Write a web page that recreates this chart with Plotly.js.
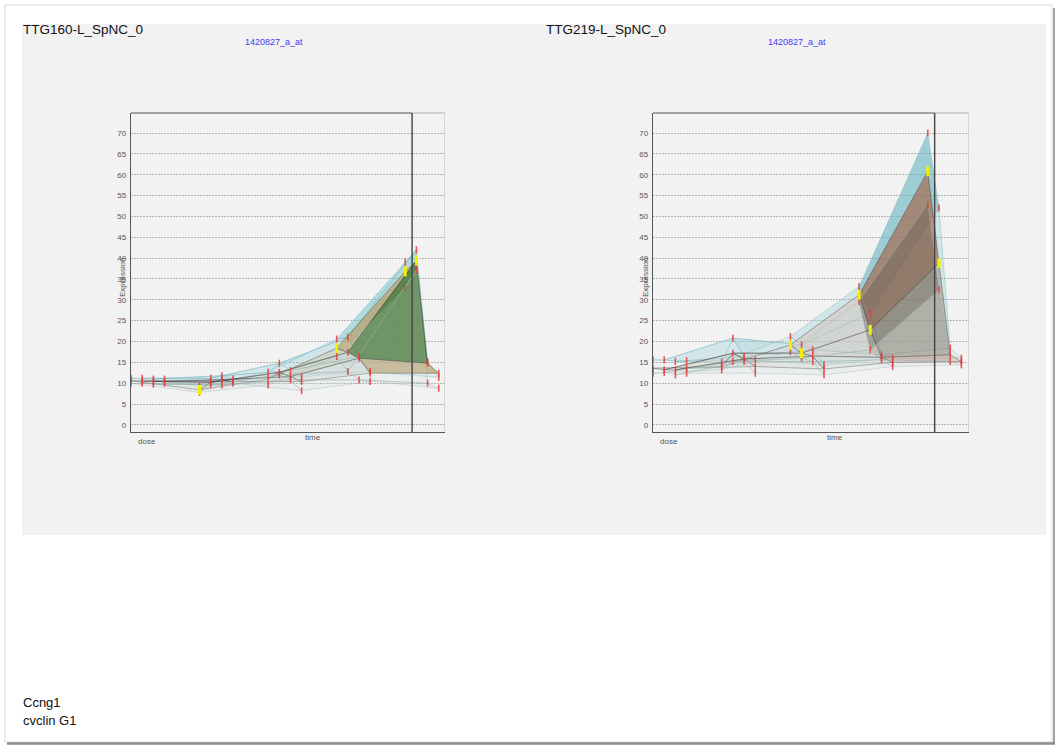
<!DOCTYPE html>
<html><head><meta charset="utf-8">
<script src="https://cdn.plot.ly/plotly-3.0.1.min.js"></script>
<style>html,body{margin:0;padding:0;background:#fff;}#chart{width:1063px;height:746px;}</style>
</head><body><div id="chart"></div>
<script>
// ---------- data ----------
const timeIdx = [0, 1, 2, 3, 4];
const doseIdx = [0, 1, 2, 3];
const yTicks = [0, 5, 10, 15, 20, 25, 30, 35, 40, 45, 50, 55, 60, 65, 70];

const leftTitle = "TTG160-L_SpNC_0";
const rightTitle = "TTG219-L_SpNC_0";
const probeId = "1420827_a_at";
const geneSymbol = "Ccng1";
const geneName = "cvclin G1";

// rows = dose, columns = time
const leftHi = [
  [11.2, 9.4, 12.6, 20.6, 39.0],
  [11.2, 11.2, 14.8, 21.0, 42.0],
  [11.0, 11.8, 13.0, 16.4, 15.2],
  [11.0, 11.0, 11.6, 12.8, 11.4]];
const leftMid = [
  [10.6, 8.4, 11.0, 18.4, 36.8],
  [10.5, 10.2, 12.6, 17.4, 39.4],
  [10.4, 10.8, 11.6, 16.0, 14.8],
  [10.4, 10.4, 10.4, 12.4, 12.4]];
const leftLo = [
  [10.0, 7.8, 9.6, 16.4, 32.8],
  [10.0, 9.6, 12.0, 12.8, 37.2],
  [9.8, 9.6, 10.8, 10.8, 10.0],
  [10.0, 10.0, 8.2, 10.4, 8.8]];
const leftSig = [[0, 1], [0, 3], [0, 4], [1, 4]];

const rightHi = [
  [15.6, 15.0, 21.2, 33.2, 70.0],
  [15.6, 20.8, 19.2, 26.8, 52.0],
  [15.2, 16.4, 18.0, 16.8, 18.4],
  [15.4, 15.6, 14.4, 16.0, 16.0]];
const rightMid = [
  [13.6, 14.0, 19.2, 31.2, 60.8],
  [13.2, 17.2, 17.2, 22.8, 38.8],
  [13.2, 15.8, 16.5, 16.2, 16.8],
  [13.6, 14.0, 13.4, 15.0, 15.2]];
const rightLo = [
  [12.4, 13.2, 17.6, 29.6, 52.8],
  [12.6, 15.2, 16.0, 18.0, 32.4],
  [12.0, 15.2, 15.2, 15.6, 15.2],
  [12.4, 12.4, 12.0, 14.0, 14.4]];
const rightSig = [[0, 2], [1, 2], [0, 3], [1, 3], [0, 4], [1, 4]];

// cell colour codes: rows = dose band, columns = time interval
const leftHiCells  = [['a','a','b','B'], ['a','a','b','B'], ['a','a','a','a']];
const leftMidCells = [['g','g','k','T'], ['g','g','k','G'], ['g','g','g','T']];
const leftLoCells  = [['l','l','l','l'], ['l','l','l','l'], ['l','l','l','l']];
const rightHiCells  = [['a','a','b','C'], ['a','b','b','b'], ['a','a','a','a']];
const rightMidCells = [['g','g','p','R'], ['g','g','p','q'], ['g','g','g','P']];
const rightLoCells  = [['l','l','l','D'], ['l','l','l','m'], ['l','l','l','l']];

const palette = {
  a: 'rgba(175,215,222,0.25)', b: 'rgba(150,205,215,0.35)', B: 'rgba(115,190,200,0.50)',
  C: 'rgba(100,180,190,0.60)',
  g: 'rgba(205,210,200,0.30)', k: 'rgba(200,185,150,0.35)', T: 'rgba(185,150,85,0.60)',
  G: 'rgba(75,115,45,0.82)',
  p: 'rgba(220,185,170,0.40)', R: 'rgba(165,95,65,0.62)', q: 'rgba(150,130,110,0.45)',
  P: 'rgba(228,170,160,0.50)',
  l: 'rgba(195,215,215,0.18)', D: 'rgba(105,95,85,0.45)', m: 'rgba(160,160,150,0.35)'
};

// ---------- drawing ----------
const W = 1063, H = 746;
const TSTEP = 1, DSTEP = 0.163;
const px = v => v / W, py = v => 1 - v / H;
const traces = [];

function proj(t, d) { return timeIdx[t] * TSTEP + doseIdx[d] * DSTEP; }

function surface(vals, cells, edge, xa, ya) {
  for (let d = 0; d < doseIdx.length - 1; d++) {
    for (let t = 0; t < timeIdx.length - 1; t++) {
      traces.push({
        type: 'scatter', mode: 'lines', xaxis: xa, yaxis: ya, hoverinfo: 'skip',
        x: [proj(t, d), proj(t + 1, d), proj(t + 1, d + 1), proj(t, d + 1), proj(t, d)],
        y: [vals[d][t], vals[d][t + 1], vals[d + 1][t + 1], vals[d + 1][t], vals[d][t]],
        fill: 'toself', fillcolor: palette[cells[d][t]],
        line: {color: edge, width: 0.7}, showlegend: false
      });
    }
  }
}

function marks(list, xa, ya) {
  const x = [], y = [];
  list.forEach(vals => {
    for (let d = 0; d < doseIdx.length; d++)
      for (let t = 0; t < timeIdx.length; t++) { x.push(proj(t, d)); y.push(vals[d][t]); }
  });
  traces.push({type: 'scatter', mode: 'markers', xaxis: xa, yaxis: ya, x, y, hoverinfo: 'skip',
    cliponaxis: false, showlegend: false,
    marker: {symbol: 'line-ns', size: 5, color: '#e04848', line: {color: 'rgba(228,60,60,0.85)', width: 1.6}}});
}

function yellow(mid, sig, xa, ya) {
  traces.push({type: 'scatter', mode: 'markers', xaxis: xa, yaxis: ya, hoverinfo: 'skip',
    x: sig.map(s => proj(s[1], s[0])), y: sig.map(s => mid[s[0]][s[1]]), showlegend: false,
    marker: {symbol: 'line-ns', size: 7, color: '#ffff00', line: {color: '#f2f200', width: 3}}});
}

function plot(hi, mid, lo, hiC, midC, loC, sig, xa, ya) {
  surface(hi, hiC, 'rgba(120,185,195,0.6)', xa, ya);
  surface(mid, midC, 'rgba(55,55,55,0.6)', xa, ya);
  surface(lo, loC, 'rgba(150,175,175,0.5)', xa, ya);
  marks([hi, mid, lo], xa, ya);
  yellow(mid, sig, xa, ya);
}

plot(leftHi, leftMid, leftLo, leftHiCells, leftMidCells, leftLoCells, leftSig, 'x', 'y');
plot(rightHi, rightMid, rightLo, rightHiCells, rightMidCells, rightLoCells, rightSig, 'x2', 'y2');

const xRangeL = [0, 4.58], xRangeR = [0, 4.6], yRange = [-1.7, 74.8];
const backEdge = 4.1;

function xax(dom, rng) {
  return {domain: dom, range: rng, showgrid: false, zeroline: false, showticklabels: false,
    ticks: '', showline: true, linecolor: '#555', linewidth: 1.2, fixedrange: true};
}
function yax(anchor) {
  return {domain: [py(432), py(113)], range: yRange, anchor: anchor, tickvals: yTicks,
    showgrid: true, gridcolor: '#b4b4b4', griddash: '1.5px,1.5px', gridwidth: 1, zeroline: false,
    showline: true, linecolor: '#555', linewidth: 1.2, ticks: '', ticklabelstandoff: 2,
    tickfont: {family: 'Liberation Sans', size: 8, color: '#555'}, fixedrange: true};
}

function frameShapes(xr, xref, yref) {
  return [
    {type: 'line', xref, yref: yref + ' domain', x0: xr[0], x1: backEdge, y0: 1, y1: 1, line: {color: '#555', width: 1.2}},
    {type: 'line', xref, yref: yref + ' domain', x0: backEdge, x1: xr[1], y0: 1, y1: 1, line: {color: '#b0b0b0', width: 1}},
    {type: 'line', xref, yref: yref + ' domain', x0: xr[1], x1: xr[1], y0: 0, y1: 1, line: {color: '#bdbdbd', width: 1}},
    {type: 'line', xref, yref: yref + ' domain', x0: backEdge, x1: backEdge, y0: 0, y1: 1, line: {color: '#444', width: 1.4}}
  ];
}

const shapes = [
  {type: 'rect', xref: 'paper', yref: 'paper', x0: px(5), x1: px(1052), y0: py(742), y1: py(5),
   line: {color: '#d8d8d8', width: 1}, fillcolor: '#ffffff', layer: 'below'},
  {type: 'line', xref: 'paper', yref: 'paper', x0: px(1054), x1: px(1054), y0: py(744), y1: py(8),
   line: {color: '#a0a0a0', width: 2}, layer: 'below'},
  {type: 'line', xref: 'paper', yref: 'paper', x0: px(7), x1: px(1055), y0: py(743.5), y1: py(743.5),
   line: {color: '#8a8a8a', width: 2.5}, layer: 'below'},
  {type: 'rect', xref: 'paper', yref: 'paper', x0: px(22), x1: px(1046), y0: py(535), y1: py(24),
   line: {width: 0}, fillcolor: '#f2f2f2', layer: 'below'},
  ...frameShapes(xRangeL, 'x', 'y'),
  ...frameShapes(xRangeR, 'x2', 'y2')
];

function ann(text, x, y, size, color, extra) {
  return Object.assign({text, x: px(x), y: py(y), xref: 'paper', yref: 'paper', showarrow: false,
    xanchor: 'left', yanchor: 'middle', font: {family: 'Liberation Sans', size, color}}, extra || {});
}

const annotations = [
  ann(leftTitle, 21, 29, 13.5, '#111'),
  ann(rightTitle, 544, 29, 13.5, '#111'),
  ann(probeId, 274, 42, 9, '#3b3bf0', {xanchor: 'center'}),
  ann(probeId, 797, 42, 9, '#3b3bf0', {xanchor: 'center'}),
  ann('dose', 147, 442, 8, '#555', {xanchor: 'center'}),
  ann('time', 313, 438, 8, '#555', {xanchor: 'center'}),
  ann('dose', 669, 442, 8, '#555', {xanchor: 'center'}),
  ann('time', 835, 438, 8, '#555', {xanchor: 'center'}),
  ann('Expression', 122, 277, 8, '#555', {xanchor: 'center', textangle: -90}),
  ann('Expression', 645, 277, 8, '#555', {xanchor: 'center', textangle: -90}),
  ann(geneSymbol, 21, 702, 13, '#111'),
  ann(geneName, 21, 720, 13, '#111')
];

const layout = {
  width: W, height: H, margin: {l: 0, r: 0, t: 0, b: 0},
  paper_bgcolor: '#ffffff', plot_bgcolor: 'rgba(0,0,0,0)', showlegend: false,
  xaxis: xax([px(131), px(445)], xRangeL),
  yaxis: yax('x'),
  xaxis2: xax([px(653), px(969)], xRangeR),
  yaxis2: yax('x2'),
  shapes, annotations
};
layout.xaxis.anchor = 'y';
layout.xaxis2.anchor = 'y2';

Plotly.newPlot('chart', traces, layout, {staticPlot: true, displayModeBar: false});
</script></body></html>
